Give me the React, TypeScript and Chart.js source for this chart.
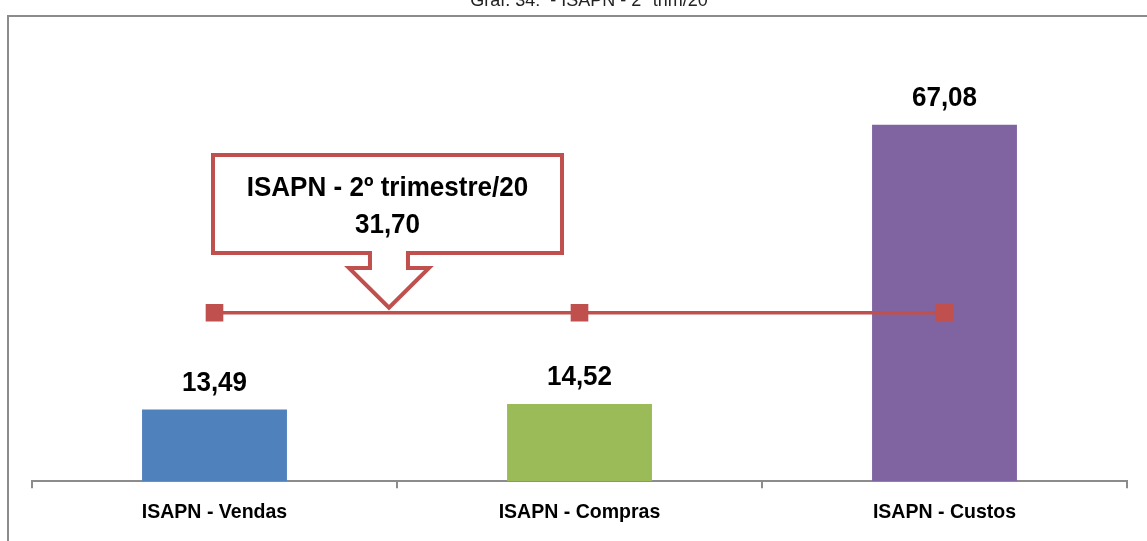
import React, { useEffect, useRef } from "react";
import { Chart, registerables } from "chart.js";

Chart.register(...registerables);

const categories = ["ISAPN - Vendas", "ISAPN - Compras", "ISAPN - Custos"];
const values = [13.49, 14.52, 67.08];
const average = [31.7, 31.7, 31.7];
const barColors = ["#4F81BD", "#9BBB59", "#8064A2"];
const titleText = "Graf. 34:  - ISAPN - 2º trim/20";
const calloutLines = ["ISAPN - 2º trimestre/20", "31,70"];

const fmt = (v: number) => v.toFixed(2).replace(".", ",");
const FONT = "'Liberation Sans', Arial, sans-serif";

function narrowText(ctx: any, text: string, x: number, y: number, sx: number) {
  ctx.save();
  ctx.translate(x, y);
  ctx.scale(sx, 1);
  ctx.fillText(text, 0, 0);
  ctx.restore();
}

const decorPlugin = {
  id: "decor",
  beforeDraw(chart: any) {
    const ctx = chart.ctx;
    ctx.save();
    ctx.strokeStyle = "#8c8c8c";
    ctx.lineWidth = 2;
    ctx.strokeRect(8, 16, 1200, 600);
    ctx.fillStyle = "#222";
    ctx.font = `18px ${FONT}`;
    ctx.textAlign = "center";
    ctx.textBaseline = "alphabetic";
    ctx.fillText(titleText, 589, 6);
    ctx.restore();
  },
  afterDatasetsDraw(chart: any) {
    const ctx = chart.ctx;
    const xs = chart.scales.x;
    const ys = chart.scales.y;
    ctx.save();
    ctx.fillStyle = "#000";
    ctx.textAlign = "center";
    ctx.textBaseline = "alphabetic";
    // category labels
    ctx.font = `bold 21px ${FONT}`;
    categories.forEach((c, i) => {
      narrowText(ctx, c, xs.getPixelForValue(i), 518, 0.93);
    });
    // value labels
    const meta = chart.getDatasetMeta(0);
    ctx.font = `bold 28px ${FONT}`;
    meta.data.forEach((bar: any, i: number) => {
      narrowText(ctx, fmt(values[i]), bar.x, bar.y - 19, 0.93);
    });
    // callout
    const tipX = xs.getPixelForValue(0) + (xs.getPixelForValue(1) - xs.getPixelForValue(0)) * 0.478;
    const tipY = ys.getPixelForValue(average[0]) - 5;
    const left = 213, right = 562, top = 155, bottom = 253;
    const stemHalf = 19, headHalf = 40, headTop = 268;
    ctx.beginPath();
    ctx.moveTo(left, top);
    ctx.lineTo(right, top);
    ctx.lineTo(right, bottom);
    ctx.lineTo(tipX + stemHalf, bottom);
    ctx.lineTo(tipX + stemHalf, headTop);
    ctx.lineTo(tipX + headHalf, headTop);
    ctx.lineTo(tipX, tipY);
    ctx.lineTo(tipX - headHalf, headTop);
    ctx.lineTo(tipX - stemHalf, headTop);
    ctx.lineTo(tipX - stemHalf, bottom);
    ctx.lineTo(left, bottom);
    ctx.closePath();
    ctx.fillStyle = "#fff";
    ctx.fill();
    ctx.strokeStyle = "#C0504D";
    ctx.lineWidth = 4;
    ctx.lineJoin = "miter";
    ctx.stroke();
    ctx.fillStyle = "#000";
    ctx.font = `bold 28px ${FONT}`;
    ctx.textBaseline = "alphabetic";
    narrowText(ctx, calloutLines[0], (left + right) / 2, 196, 0.93);
    narrowText(ctx, calloutLines[1], (left + right) / 2, 233, 0.93);
    ctx.restore();
  },
};

export default function App() {
  const ref = useRef<HTMLCanvasElement>(null);
  useEffect(() => {
    document.body.style.margin = "0";
    const chart = new Chart(ref.current!, {
      type: "bar",
      data: {
        labels: categories,
        datasets: [
          {
            type: "bar",
            data: values,
            backgroundColor: barColors,
            categoryPercentage: 1,
            barPercentage: 0.397,
            order: 2,
          },
          {
            type: "line",
            data: average,
            borderColor: "#C0504D",
            backgroundColor: "#C0504D",
            borderWidth: 3.5,
            pointStyle: "rect",
            pointRadius: 10,
            pointHoverRadius: 10,
            order: 1,
          } as any,
        ],
      },
      options: {
        responsive: false,
        animation: false,
        devicePixelRatio: 1,
        layout: { padding: { left: 32, right: 20, top: 56, bottom: 10 } },
        plugins: { legend: { display: false }, tooltip: { enabled: false }, title: { display: false } },
        scales: {
          x: {
            offset: true,
            grid: { display: true, drawOnChartArea: false, drawTicks: true, tickLength: 7, color: "#8c8c8c", offset: true, lineWidth: 2 },
            border: { display: true, color: "#8c8c8c", width: 2 },
            ticks: { color: "rgba(0,0,0,0)", font: { family: FONT, size: 19, weight: "bold" }, padding: 10 },
          },
          y: { display: false, min: 0, max: 80 },
        },
      },
      plugins: [decorPlugin],
    });
    return () => chart.destroy();
  }, []);
  return <canvas ref={ref} width={1147} height={541} style={{ display: "block" }} />;
}
